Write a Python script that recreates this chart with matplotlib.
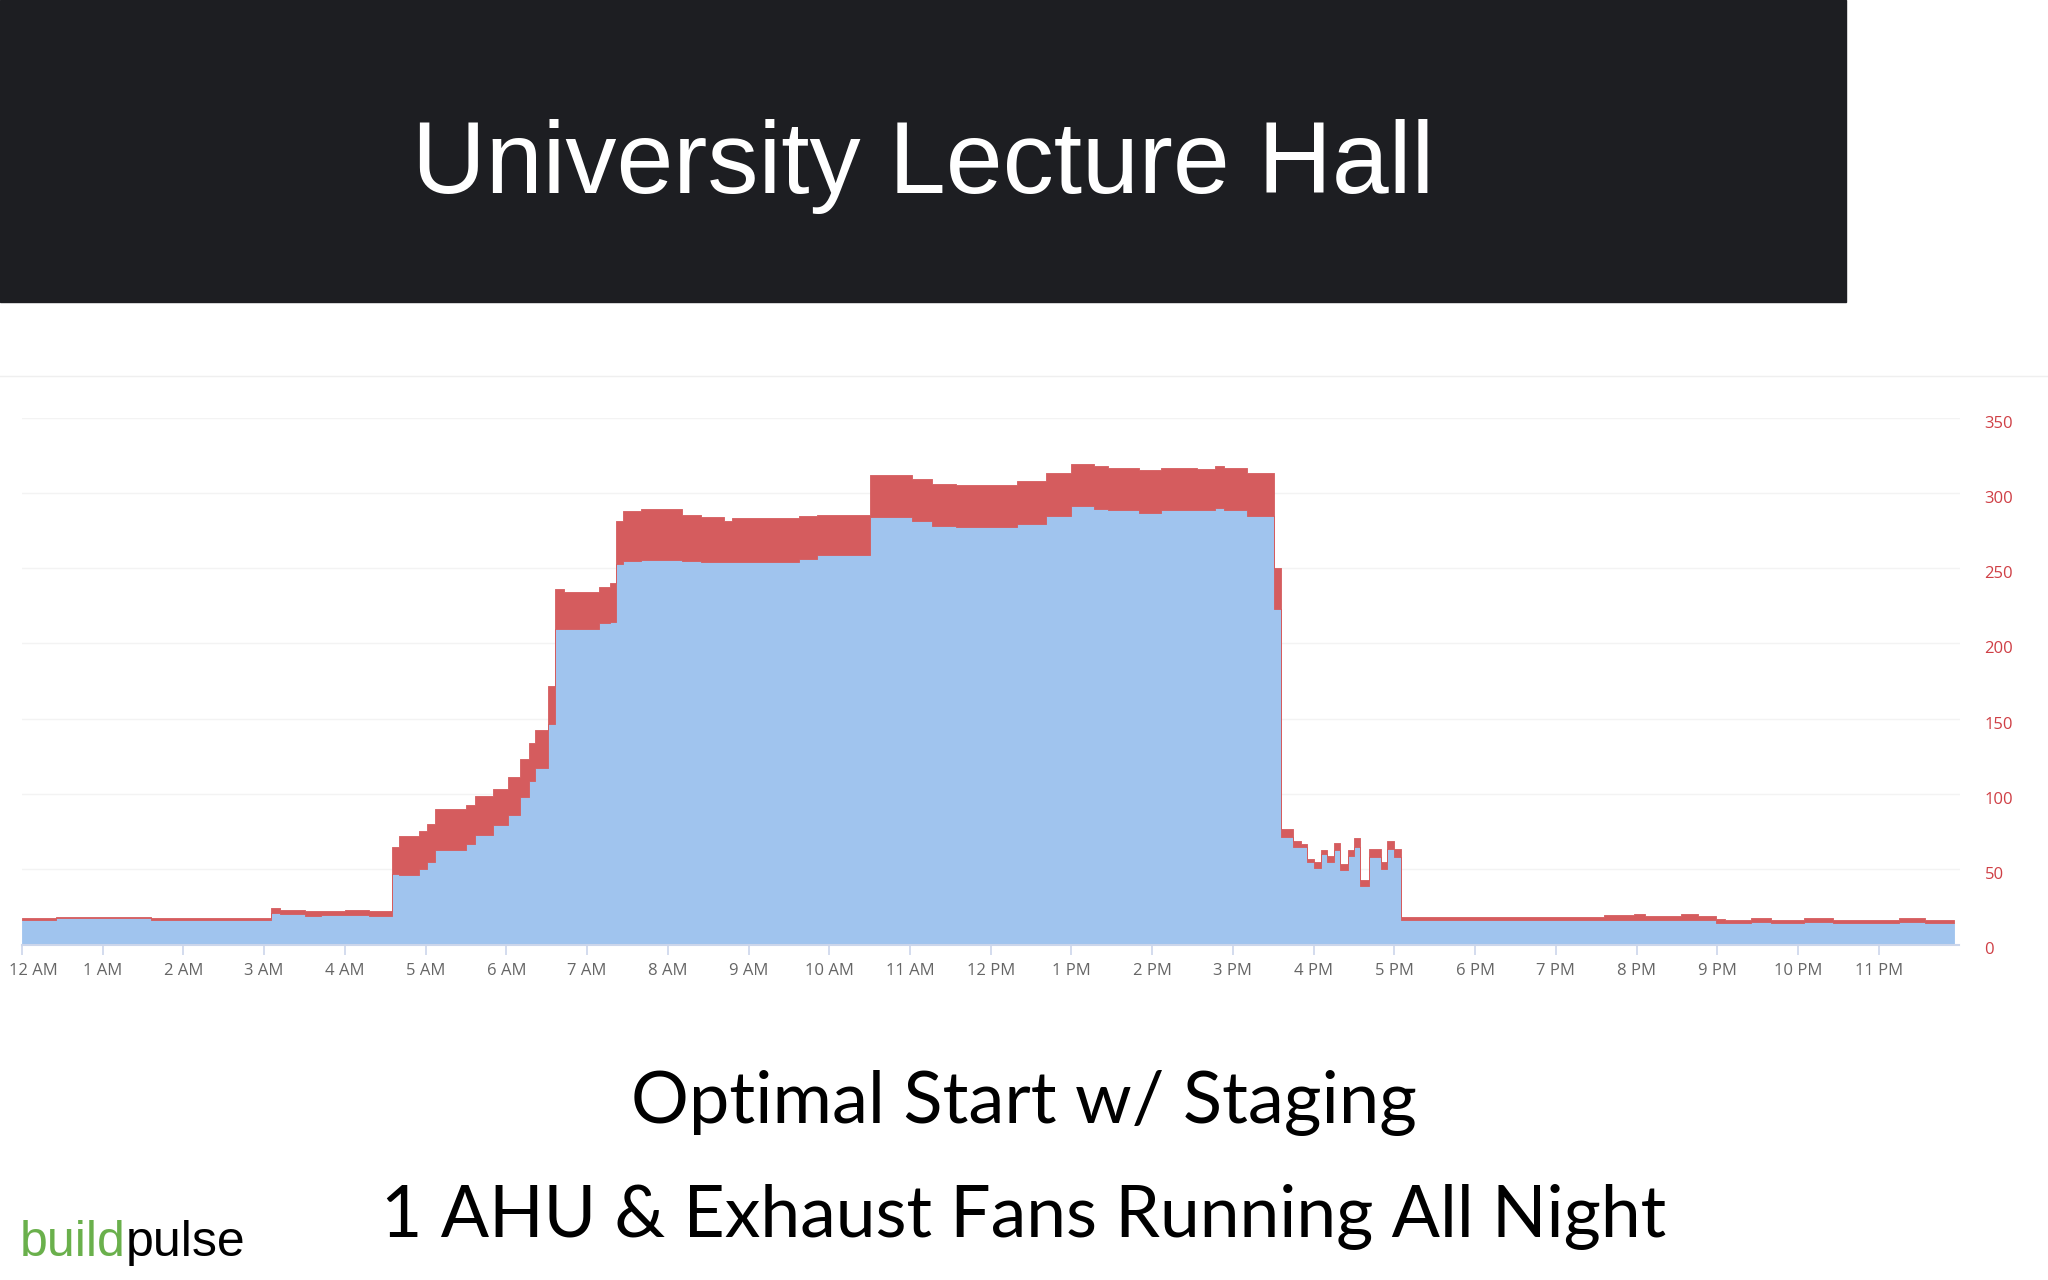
import numpy as np
import matplotlib
matplotlib.use('Agg')
import matplotlib.pyplot as plt
from matplotlib.patches import Rectangle
from matplotlib.lines import Line2D
from matplotlib.transforms import ScaledTranslation

# step start (hours after midnight) and stacked kW values
hours = [0.00, 0.42, 1.60, 3.08, 3.20, 3.50, 3.70, 4.00, 4.30,
         4.58, 4.67, 4.92, 5.02, 5.12, 5.50, 5.61, 5.83, 6.02, 6.17, 6.28, 6.36, 6.52,
         6.60, 6.72, 7.15, 7.28, 7.36, 7.44, 7.67, 8.17, 8.41, 8.69, 8.80, 9.63, 9.85,
         10.50, 11.02, 11.27, 11.57, 12.32, 12.68, 13.00, 13.28, 13.45, 13.84, 14.11,
         14.56, 14.78, 14.89, 15.17, 15.51, 15.59, 15.75, 15.84, 15.92, 16.00, 16.09,
         16.16, 16.25, 16.33, 16.43, 16.50, 16.58, 16.68, 16.83, 16.91, 17.00, 17.08,
         19.60, 19.97, 20.10, 20.55, 20.76, 20.98, 21.10, 21.42, 21.67, 22.08, 22.43,
         23.25, 23.57]
ahu_kw = [16.5, 17.5, 16.5, 21.0, 20.0, 19.0, 19.5, 19.5, 19.0,
          46.5, 46.0, 50.0, 54.5, 63.0, 66.5, 73.0, 79.5, 86.0, 98.0, 108.5, 117.5, 146.5,
          209.5, 209.5, 213.5, 214.5, 253.0, 254.5, 255.5, 254.5, 254.0, 254.0, 254.0, 256.0, 258.5,
          284.0, 281.5, 278.0, 277.0, 279.0, 284.5, 291.0, 289.5, 288.5, 286.5, 288.5,
          288.5, 290.0, 288.5, 284.5, 223.0, 71.5, 65.0, 65.0, 54.5, 50.5, 60.0,
          54.5, 62.5, 49.5, 58.5, 65.0, 39.0, 58.0, 50.0, 63.5, 58.0, 16.5,
          16.0, 16.0, 16.0, 16.0, 16.0, 14.5, 14.5, 15.0, 14.5, 15.0, 14.5,
          15.0, 14.5]
exhaust_kw = [1.0, 1.0, 1.0, 3.5, 3.0, 3.0, 3.0, 3.5, 3.5,
              18.5, 26.0, 25.5, 25.5, 27.0, 26.0, 25.5, 23.5, 25.0, 25.0, 25.0, 25.0, 25.0,
              26.5, 24.5, 24.0, 25.5, 28.5, 33.5, 34.0, 30.5, 30.0, 27.5, 29.0, 28.5, 26.5,
              28.0, 27.5, 28.0, 28.5, 29.0, 28.5, 28.0, 28.5, 28.0, 28.5, 28.0,
              27.5, 28.0, 28.0, 28.5, 27.0, 5.5, 4.0, 1.5, 2.5, 4.0, 2.5,
              4.0, 5.0, 4.0, 4.5, 5.5, 4.0, 5.5, 4.5, 5.5, 5.5, 1.5,
              3.5, 4.5, 3.0, 4.5, 3.0, 2.5, 2.0, 2.5, 2.0, 2.5, 2.0,
              2.5, 1.5]
day_end = 23.93

hour_labels = ['12 AM', '1 AM', '2 AM', '3 AM', '4 AM', '5 AM', '6 AM', '7 AM',
               '8 AM', '9 AM', '10 AM', '11 AM', '12 PM', '1 PM', '2 PM', '3 PM',
               '4 PM', '5 PM', '6 PM', '7 PM', '8 PM', '9 PM', '10 PM', '11 PM']
y_ticks = [0, 50, 100, 150, 200, 250, 300, 350]

title = 'University Lecture Hall'
line1 = 'Optimal Start w/ Staging'
line2 = '1 AHU & Exhaust Fans Running All Night'

BLUE = '#a0c4ee'
RED = '#d55c5e'
W, H = 2048, 1280

plt.rcParams['font.family'] = 'Open Sans'
fig = plt.figure(figsize=(W / 100, H / 100), dpi=100)
fig.patch.set_facecolor('white')

# dark header band
fig.add_artist(Rectangle((0, 1 - 302 / H), 1846 / W, 302 / H,
                         transform=fig.transFigure, color='#1d1e22', zorder=0))
# faint chart container border
fig.add_artist(Line2D([0, 1], [1 - 376 / H] * 2, transform=fig.transFigure,
                      color='#efefef', lw=1))

ax = fig.add_axes([22 / W, 1 - 944.5 / H, 1937.5 / W, 527 / H])
x = np.append(hours, day_end)
blue = np.append(ahu_kw, ahu_kw[-1])
red = np.append(exhaust_kw, exhaust_kw[-1])
ax.fill_between(x, 0, blue, step='post', color=BLUE, lw=0.6, zorder=2)
ax.fill_between(x, blue, blue + red, step='post', color=RED, lw=0.6, zorder=2)

ax.set_xlim(0, 24)
ax.set_ylim(0, 350)
for s in ['top', 'left', 'right']:
    ax.spines[s].set_visible(False)
ax.spines['bottom'].set_color('#ccd6eb')
ax.spines['bottom'].set_linewidth(1.5)
ax.spines['bottom'].set_zorder(3)

ax.set_xticks(range(24))
ax.set_xticklabels(hour_labels)
ax.tick_params(axis='x', length=7, width=1.2, color='#ccd6eb',
               labelcolor='#666666', labelsize=12, pad=6)
first = ax.get_xticklabels()[0]
first.set_horizontalalignment('left')
first.set_transform(first.get_transform() +
                    ScaledTranslation(-0.13, 0, fig.dpi_scale_trans))

ax.yaxis.tick_right()
ax.set_yticks(y_ticks)
ax.tick_params(axis='y', length=0, pad=18, labelcolor='#cf3f45', labelsize=12)
for lab in ax.get_yticklabels():
    lab.set_transform(lab.get_transform() +
                      ScaledTranslation(0, -0.04, fig.dpi_scale_trans))
ax.grid(axis='y', color='#f3f3f3', lw=1)
ax.set_axisbelow(True)
ax.set_facecolor('none')

t_title = fig.text(923 / W, 1 - 193 / H, title, color='white', fontsize=74,
                   family='Liberation Sans', ha='center', va='baseline')
t1 = fig.text(0.5, 1 - 1123 / H, line1, color='black', fontsize=50,
              family='Lato', ha='center', va='baseline')
t2 = fig.text(0.5, 1 - 1237 / H, line2, color='black', fontsize=50,
              family='Lato', ha='center', va='baseline')
b1 = fig.text(20 / W, 1 - 1256 / H, 'build', color='#6ab04c', fontsize=36,
              family='Liberation Sans', ha='left', va='baseline')

# fit text widths to the reference
fig.canvas.draw()
r = fig.canvas.get_renderer()
for t, target in [(t_title, 1020), (t1, 786), (t2, 1288)]:
    w = t.get_window_extent(r).width
    t.set_fontsize(t.get_fontsize() * target / w)
fig.canvas.draw()
bx = b1.get_window_extent(r).x1
fig.text(bx / W, 1 - 1256 / H, 'pulse', color='black', fontsize=36,
         family='Liberation Sans', ha='left', va='baseline')

fig.savefig('out.png', dpi=100)
